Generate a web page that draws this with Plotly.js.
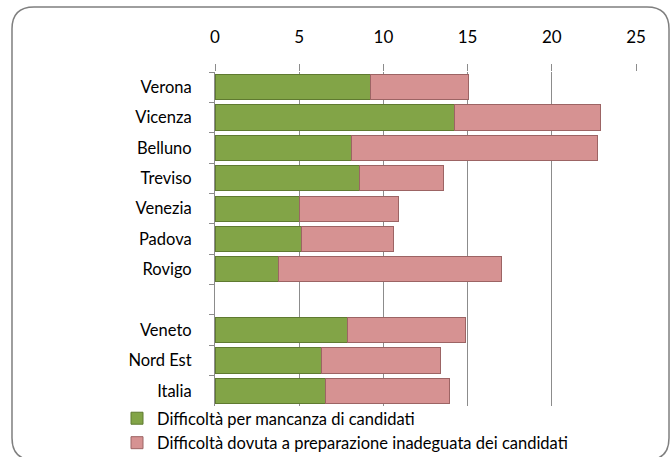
<!DOCTYPE html>
<html>
<head>
<meta charset="utf-8">
<script src="https://cdn.plot.ly/plotly-3.0.1.min.js"></script>
<style>
html,body{margin:0;padding:0;background:#fff;}
#chart{width:671px;height:457px;}
</style>
</head>
<body>
<div id="chart"></div>
<script>
const categories = ["Verona","Vicenza","Belluno","Treviso","Venezia","Padova","Rovigo"," ","Veneto","Nord Est","Italia"];
const mancanza = [9.23,14.2,8.08,8.57,5.03,5.13,3.76,null,7.86,6.32,6.55];
const preparazione = [5.84,8.67,14.65,5.01,5.88,5.48,13.27,null,7.01,7.09,7.39];
const seriesNames = ["Difficoltà per mancanza di candidati","Difficoltà dovuta a preparazione inadeguata dei candidati"];
const xTicks = [0,5,10,15,20,25];

const W = 671, H = 457;
const L = 215, R = 636, T = 72, B = 406;
const px = v => (v - L) / (R - L);
const py = v => (B - v) / (B - T);

// rounded border path in paper coords
const bx0 = 12, bx1 = 669, by0 = 7, by1 = 460, rad = 22;
function P(x, y){ return px(x).toFixed(4) + "," + py(y).toFixed(4); }
const borderPath =
  "M" + P(bx0 + rad, by0) +
  " L" + P(bx1 - rad, by0) +
  " Q" + P(bx1, by0) + " " + P(bx1, by0 + rad) +
  " L" + P(bx1, by1 - rad) +
  " Q" + P(bx1, by1) + " " + P(bx1 - rad, by1) +
  " L" + P(bx0 + rad, by1) +
  " Q" + P(bx0, by1) + " " + P(bx0, by1 - rad) +
  " L" + P(bx0, by0 + rad) +
  " Q" + P(bx0, by0) + " " + P(bx0 + rad, by0) + " Z";

const font = "Lato, 'Open Sans', sans-serif";
const gridCol = "#8c8c8c";

const data = [
  {
    type: "bar", orientation: "h", name: seriesNames[0],
    y: categories, x: mancanza,
    marker: {color: "#82a447", line: {color: "#5f7a30", width: 1}},
    hoverinfo: "x+y"
  },
  {
    type: "bar", orientation: "h", name: seriesNames[1],
    y: categories, x: preparazione,
    marker: {color: "#d69292", line: {color: "#9c6464", width: 1}},
    hoverinfo: "x+y"
  }
];

const layout = {
  width: W, height: H,
  margin: {l: L, r: W - R, t: T, b: H - B, pad: 0, autoexpand: false},
  paper_bgcolor: "#ffffff", plot_bgcolor: "#ffffff",
  barmode: "stack", bargap: 0.17,
  font: {family: font, size: 16, color: "#000"},
  showlegend: true,
  legend: {
    x: px(117), xanchor: "left", y: py(401), yanchor: "top",
    orientation: "v", traceorder: "normal",
    font: {family: font, size: 16.5, color: "#000"},
    itemwidth: 30, tracegroupgap: 0, bgcolor: "rgba(0,0,0,0)"
  },
  xaxis: {
    side: "top", range: [0, 25], tickvals: xTicks, ticktext: xTicks.map(String),
    showgrid: true, gridcolor: gridCol, gridwidth: 1,
    zeroline: false, showline: false,
    ticks: "outside", ticklen: 7, tickcolor: gridCol, tickwidth: 1,
    ticklabelstandoff: 14,
    tickfont: {family: font, size: 17, color: "#000"},
    fixedrange: true
  },
  yaxis: {
    type: "category", categoryorder: "array", categoryarray: categories,
    autorange: "reversed",
    tickson: "boundaries", ticks: "outside", ticklen: 5, tickcolor: gridCol, tickwidth: 1,
    showline: true, linecolor: gridCol, linewidth: 1,
    showgrid: false, zeroline: false,
    ticklabelstandoff: 19,
    tickfont: {family: font, size: 16.5, color: "#000"},
    fixedrange: true
  },
  shapes: [
    {type: "path", xref: "paper", yref: "paper", path: borderPath,
     line: {color: "#7f7f7f", width: 1.5}, fillcolor: "rgba(0,0,0,0)", layer: "below"}
  ]
};

Plotly.newPlot("chart", data, layout, {displayModeBar: false, staticPlot: true});
</script>
</body>
</html>
